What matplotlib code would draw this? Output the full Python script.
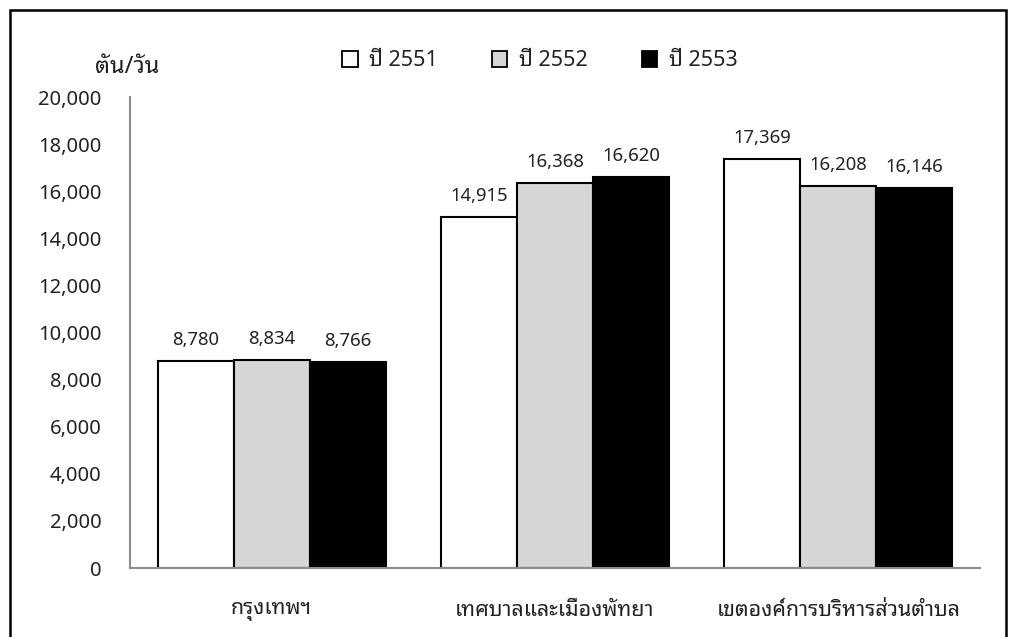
import numpy as np
import matplotlib
matplotlib.use("Agg")
import matplotlib.pyplot as plt
from matplotlib.patches import Rectangle
from matplotlib.ticker import FuncFormatter

plt.rcParams['font.family'] = ['Noto Sans', 'Noto Sans Thai Looped', 'DejaVu Sans']

categories = ['กรุงเทพฯ', 'เทศบาลและเมืองพัทยา', 'เขตองค์การบริหารส่วนตำบล']
years = ['ปี 2551', 'ปี 2552', 'ปี 2553']
v2551 = [8780, 14915, 17369]
v2552 = [8834, 16368, 16208]
v2553 = [8766, 16620, 16146]
series = [v2551, v2552, v2553]
colors = ['white', '#d6d6d6', 'black']

thai = ['Noto Sans Thai Looped', 'Noto Sans', 'DejaVu Sans']
txt = '#222222'

fig = plt.figure(figsize=(10.09, 6.37), dpi=100)
ax = fig.add_axes([0.1288, 0.1083, 0.8424, 0.7394])

x = np.arange(len(categories))
w = 0.268
for i, vals in enumerate(series):
    bars = ax.bar(x + (i - 1) * w, vals, w, color=colors[i], edgecolor='black',
                  linewidth=1.5, label=years[i])
    for b, v in zip(bars, vals):
        ax.text(b.get_x() + b.get_width() / 2, v + 680, f'{v:,}',
                ha='center', va='baseline', fontsize=13.3, color=txt)

ax.set_xlim(-0.5, 2.5)
ax.set_ylim(0, 20000)
ax.set_yticks(np.arange(0, 20001, 2000))
ax.yaxis.set_major_formatter(FuncFormatter(lambda v, p: f'{int(v):,}'))
ax.tick_params(axis='y', length=0, pad=20.5, labelsize=14.5, labelcolor=txt)
ax.set_xticks(x)
ax.set_xticklabels(categories, family=thai, fontsize=15.4, color=txt)
ax.tick_params(axis='x', length=0, pad=23)
for s in ['top', 'right']:
    ax.spines[s].set_visible(False)
for s in ['left', 'bottom']:
    ax.spines[s].set_color('#8c8c8c')
    ax.spines[s].set_linewidth(1.5)

fig.text(127 / 1009, 1 - 67 / 637, 'ตัน/วัน', family=thai, fontsize=17, ha='center',
         va='center', color=txt)

leg = ax.legend(loc='center', bbox_to_anchor=(540 / 1009, 1 - 61 / 637),
                bbox_transform=fig.transFigure, ncol=3, frameon=False,
                prop={'family': thai, 'size': 15.5},
                handlelength=0.72, handleheight=0.72, handletextpad=0.55, columnspacing=2.5)
for h in leg.legend_handles:
    h.set_linewidth(1.3)
for t in leg.get_texts():
    t.set_color(txt)

fig.patches.append(Rectangle((10 / 1009, -0.05), 996 / 1009, 1 - 10 / 637 + 0.05,
                             transform=fig.transFigure, fill=False, edgecolor='black',
                             linewidth=1.8))

fig.savefig('out.png', dpi=100)
